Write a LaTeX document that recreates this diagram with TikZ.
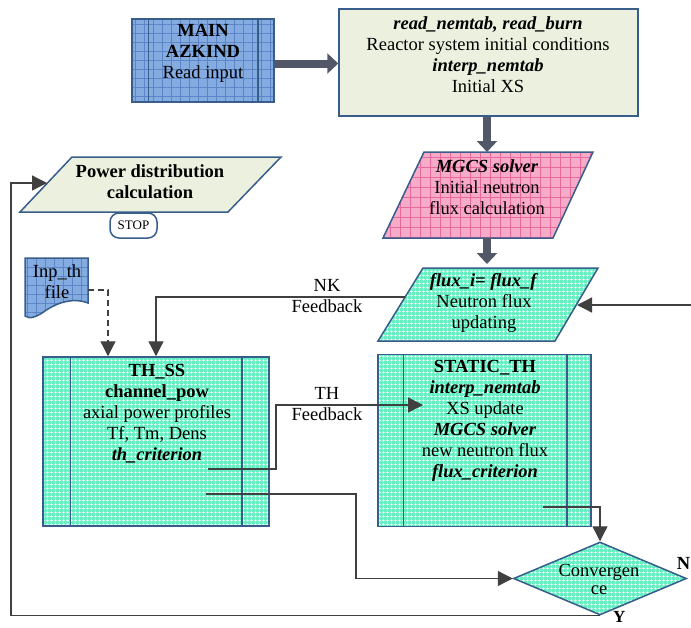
\documentclass[tikz,border=0pt]{standalone}
\usepackage{fontspec}
\setmainfont{Liberation Serif}
\usetikzlibrary{arrows.meta,patterns.meta,shapes.geometric,calc}
\definecolor{bordc}{RGB}{56,93,138}
\definecolor{connc}{RGB}{64,64,64}
\definecolor{lgreen}{RGB}{235,241,222}
\definecolor{blue0}{RGB}{132,172,224}
\definecolor{blue1}{RGB}{92,132,198}
\definecolor{pink0}{RGB}{246,172,200}
\definecolor{pink1}{RGB}{232,105,155}
\definecolor{teal0}{RGB}{100,240,192}
\definecolor{arrc}{RGB}{82,88,104}
\begin{document}
\begin{tikzpicture}[x=1pt,y=-1pt,
  txt/.style={align=center,font=\fontsize{18.5}{21}\selectfont,inner sep=0pt},
  bluefill/.style={preaction={fill=blue0},pattern={Hatch[angle=0,distance=9pt,line width=0.6pt]},pattern color=blue1,draw=bordc,line width=1.5pt},
  pinkfill/.style={preaction={fill=pink0},pattern={Hatch[angle=0,distance=10pt,line width=0.6pt]},pattern color=pink1,draw=bordc,line width=1.5pt},
  tealfill/.style={preaction={fill=teal0},pattern={Hatch[angle=0,distance=4pt,line width=0.5pt]},pattern color=white,draw=bordc,line width=1.5pt},
  greenfill/.style={fill=lgreen,draw=bordc,line width=1.5pt},
  boxnode/.style={rectangle,inner sep=0pt},
  inner/.style={draw=bordc,line width=1.5pt},
  thickarrow/.style={draw=arrc,line width=8pt,-{Triangle[length=11pt,width=20pt]}},
  conn/.style={draw=connc,line width=1.3pt,-{Triangle[length=15pt,width=15pt]}},
  dashconn/.style={draw=connc,line width=1.3pt,dash pattern=on 6pt off 4pt,-{Triangle[length=15pt,width=15pt]}}
]
\useasboundingbox (0,0) rectangle (691,627);

% MAIN box
\node[boxnode,bluefill,minimum width=142pt,minimum height=83pt] (main) at (203,60.5) {};
\draw[inner] ([xshift=17pt]main.north west) -- ([xshift=17pt]main.south west);
\draw[inner] ([xshift=-17pt]main.north east) -- ([xshift=-17pt]main.south east);
\node[txt] (maintxt) at (203,53) {\textbf{MAIN}\\\textbf{AZKIND}\\Read input};

% initial conditions box
\node[boxnode,greenfill,minimum width=299pt,minimum height=107pt] (green) at (488.5,62.5) {};
\node[txt] (greentxt) at (488,55) {\textbf{\textit{read\_nemtab, read\_burn}}\\Reactor system initial conditions\\\textbf{\textit{interp\_nemtab}}\\Initial XS};

% MGCS parallelogram
\path[pinkfill] (424,152) -- (593,152) -- (553,238) -- (383,238) -- cycle;
\coordinate (mgcsT) at (487,152);
\coordinate (mgcsB) at (487,238);
\node[txt] (mgcstxt) at (487,187) {\textbf{\textit{MGCS solver}}\\Initial neutron\\flux calculation};

% flux update parallelogram
\path[tealfill] (423,268) -- (598,268) -- (555,341) -- (378,341) -- cycle;
\coordinate (fluxT) at (487,268);
\coordinate (fluxL) at (405,297);
\coordinate (fluxR) at (577,305);
\coordinate (rin) at (692,305);
\node[txt] (fluxtxt) at (484,303) {\textbf{\textit{flux\_i= flux\_f}}\\Neutron flux\\updating};

% Power distribution parallelogram
\path[greenfill] (72,157) -- (281,157) -- (228,212) -- (20,212) -- cycle;
\coordinate (powL) at (47,183);
\node[txt] (powtxt) at (150,181.5) {\textbf{Power distribution}\\\textbf{calculation}};
\node[draw=bordc,line width=1.5pt,fill=white,rounded corners=9pt,minimum width=47pt,minimum height=25pt,inner sep=0pt,font=\fontsize{13}{14}\selectfont] (stop) at (133.5,225.5) {STOP};

% Inp_th file
\path[bluefill] (25,258) -- (88,258) -- (88,303) .. controls (70,296) and (52,306) .. (45,311) .. controls (38,316) and (30,320) .. (25,316) -- cycle;
\coordinate (inpE) at (88,290);
\node[txt] (inptxt) at (57,282) {Inp\_th\\file};

% TH_SS box
\node[boxnode,tealfill,minimum width=226pt,minimum height=169pt] (thss) at (156,441.5) {};
\draw[inner] ([xshift=28pt]thss.north west) -- ([xshift=28pt]thss.south west);
\draw[inner] ([xshift=-28pt]thss.north east) -- ([xshift=-28pt]thss.south east);
\node[txt] (thsstxt) at (157,413.5) {\textbf{TH\_SS}\\\textbf{channel\_pow}\\axial power profiles\\Tf, Tm, Dens\\\textbf{\textit{th\_criterion}}};
\coordinate (thA) at (208,469);
\coordinate (thB) at (206,494);

% STATIC_TH box
\node[boxnode,tealfill,minimum width=213pt,minimum height=172pt] (static) at (484.5,440.5) {};
\draw[inner] ([xshift=26pt]static.north west) -- ([xshift=26pt]static.south west);
\draw[inner] ([xshift=-25pt]static.north east) -- ([xshift=-25pt]static.south east);
\node[txt] (statictxt) at (485,421) {\textbf{STATIC\_TH}\\\textbf{\textit{interp\_nemtab}}\\XS update\\\textbf{\textit{MGCS solver}}\\new neutron flux\\\textbf{\textit{flux\_criterion}}};
\coordinate (staticIn) at (423,405);
\coordinate (stA) at (543,507);

% Convergence diamond
\node[diamond,aspect=2.37,tealfill,minimum width=173pt,minimum height=73pt,inner sep=0pt] (conv) at (600,578.5) {};
\node[txt,font=\fontsize{18.5}{18}\selectfont] (convtxt) at (599,579) {Convergen\\ce};
\node[anchor=east,inner sep=0pt,font=\fontsize{18.5}{21}\selectfont\bfseries] (nlab) at (690.5,563) {N};
\node[anchor=base west,inner sep=0pt,font=\fontsize{17}{20}\selectfont\bfseries] (ylab) at (613,622.5) {Y};

% labels
\node[txt] (nklab) at (327,296) {NK\\Feedback};
\node[txt] (thlab) at (327,404) {TH\\Feedback};

% thick arrows
\draw[thickarrow] ([yshift=-3pt]main.east) -- ([yshift=-3pt]main.east -| green.west);
\draw[thickarrow] (green.south -| mgcsT) -- (mgcsT);
\draw[thickarrow,shorten >=4pt] (mgcsB) -- (fluxT);

% connectors
\draw[conn] (rin) -- (fluxR);
\draw[conn] (fluxL) -| (thss.north);
\draw[dashconn] (inpE) -| ([xshift=-48pt]thss.north);
\draw[conn] (thA) -- (276,469) |- (staticIn);
\draw[conn] (thB) -- (356,494) |- (conv.west);
\draw[conn] (stA) -| (conv.north);
\draw[conn] (conv.south) -| (11,183) -- (powL);
\end{tikzpicture}
\end{document}
